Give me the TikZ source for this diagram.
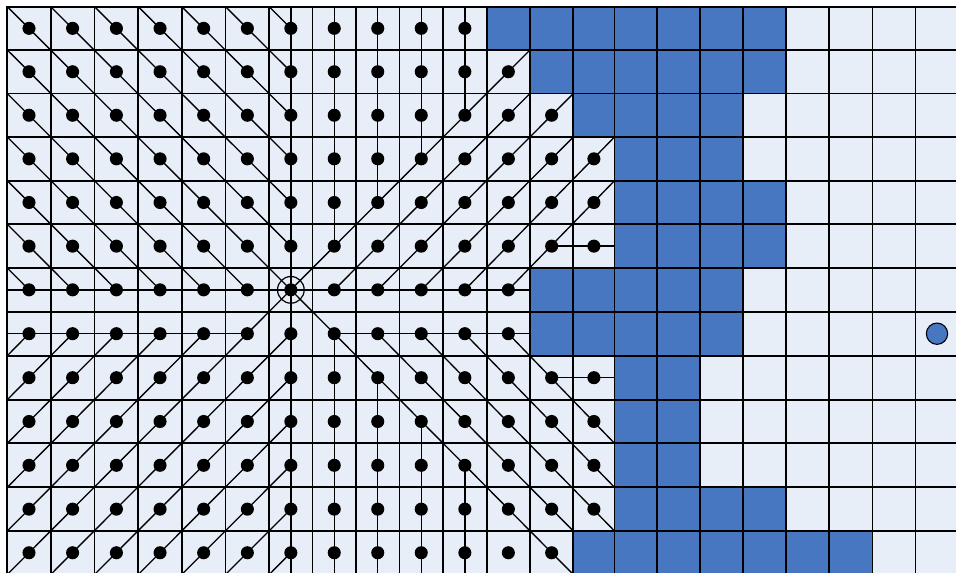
\documentclass[tikz,border=0pt]{standalone}
\definecolor{clight}{RGB}{232,238,248}
\definecolor{cblue}{RGB}{70,119,192}
\begin{document}
\begin{tikzpicture}[x=0.75pt,y=-0.75pt,
  cellbox/.style={draw=black,line width=1.25pt},
  conn/.style={draw=black,line width=1pt},
  dotnode/.style={circle,fill=black,inner sep=0pt,minimum size=9.8pt},
  ringnode/.style={circle,draw=black,line width=0.9pt,inner sep=0pt,minimum size=20pt},
  goalnode/.style={circle,draw=black,fill=cblue,line width=0.8pt,inner sep=0pt,minimum size=16pt}]
\useasboundingbox (0,0) rectangle (956,573);
\fill[white] (0,0) rectangle (956,573);
\clip (0,0) rectangle (956,573);
\def\XS{{7.3,50.7,94.5,138.3,181.8,225.5,269.2,312.5,356,399.5,443,486.7,530,573.3,614.5,657.3,700.3,743.3,786.3,829.3,872.5,915.5,958.5}}
\def\YS{{6.7,50,93.5,137,180.7,224.3,268,311.7,355.7,399.7,443.3,487.3,531,574.5}}
\def\BA{{11,12,13,14,14,14,12,12,14,14,14,14,13}}
\def\BB{{17,17,16,16,17,17,16,16,15,15,15,17,19}}
% corners
\foreach \ri in {0,...,13}{
  \foreach \ci in {0,...,22}{
    \pgfmathsetmacro\xx{\XS[\ci]}
    \pgfmathsetmacro\yy{\YS[\ri]}
    \coordinate (k-\ri-\ci) at (\xx,\yy);
  }
}
% centres
\foreach \ri in {0,...,12}{
  \foreach \ci in {0,...,21}{
    \pgfmathtruncatemacro\rn{\ri+1}
    \pgfmathtruncatemacro\cn{\ci+1}
    \pgfmathsetmacro\xa{\XS[\ci]}
    \pgfmathsetmacro\xb{\XS[\cn]}
    \pgfmathsetmacro\ya{\YS[\ri]}
    \pgfmathsetmacro\yb{\YS[\rn]}
    \pgfmathsetmacro\xm{(\xa+\xb)/2}
    \pgfmathsetmacro\ym{(\ya+\yb)/2}
    \coordinate (p-\ri-\ci) at (\xm,\ym);
  }
}
% edge points
\foreach \ci in {0,...,21}{
  \coordinate (top-\ci) at (p-0-\ci |- k-0-0);
  \coordinate (bot-\ci) at (p-0-\ci |- k-13-0);
}
\foreach \ri in {0,...,12}{
  \coordinate (left-\ri) at (k-0-0 |- p-\ri-0);
}
\coordinate (e6) at (k-0-12 |- p-6-0);
\coordinate (e7) at (k-0-12 |- p-7-0);
\coordinate (e5) at (k-0-14 |- p-5-0);
\coordinate (e8) at (k-0-14 |- p-8-0);
% cells
\foreach \ri in {0,...,12}{
  \foreach \ci in {0,...,21}{
    \pgfmathtruncatemacro\rn{\ri+1}
    \pgfmathtruncatemacro\cn{\ci+1}
    \pgfmathtruncatemacro\ba{\BA[\ri]}
    \pgfmathtruncatemacro\bb{\BB[\ri]}
    \ifnum\ci<\ba \def\fc{clight}\else\ifnum\ci>\bb \def\fc{clight}\else\def\fc{cblue}\fi\fi
    \path[cellbox,fill=\fc] (k-\ri-\ci) rectangle (k-\rn-\cn);
  }
}
% connectors
\draw[conn] (top-6) -- (bot-6);
\draw[conn] (left-6) -- (e6);
\draw[conn] (left-7) -- (p-7-5);
\draw[conn] (p-7-7) -- (e7);
\draw[conn] (p-5-12) -- (e5);
\draw[conn] (p-8-12) -- (e8);
\draw[conn] (p-6-6) -- (k-1-12);
\draw[conn] (p-6-6) -- (k-13-13);
\draw[conn] (k-2-12) -- (p-6-7);
\draw[conn] (k-2-13) -- (p-6-8);
\draw[conn] (k-3-13) -- (p-6-9);
\draw[conn] (k-3-14) -- (p-6-10);
\draw[conn] (k-4-14) -- (p-6-11);
\draw[conn] (p-7-8) -- (k-12-13);
\draw[conn] (p-7-9) -- (k-12-14);
\draw[conn] (p-7-10) -- (k-11-14);
\draw[conn] (p-7-11) -- (k-10-14);
\draw[conn] (p-7-7) -- (bot-7);
\draw[conn] (p-8-8) -- (bot-8);
\draw[conn] (p-9-9) -- (bot-9);
\draw[conn] (p-10-10) -- (bot-10);
\foreach \kk in {0,...,6}{
  \pgfmathtruncatemacro\ee{6-\kk}
  \draw[conn] (k-0-\kk) -- (p-\ee-6);
}
\foreach \ri in {1,...,6}{
  \pgfmathtruncatemacro\ee{6-\ri}
  \draw[conn] (k-\ri-0) -- (p-6-\ee);
}
\foreach \ci in {7,...,10}{
  \pgfmathtruncatemacro\ee{12-\ci}
  \draw[conn] (top-\ci) -- (p-\ee-\ci);
}
\foreach \ri in {7,...,11}{
  \pgfmathtruncatemacro\rn{\ri+1}
  \pgfmathtruncatemacro\ee{\ri-7}
  \draw[conn] (k-\rn-0) -- (p-7-\ee);
}
\foreach \kk in {0,...,6}{
  \pgfmathtruncatemacro\ee{6+\kk}
  \draw[conn] (k-13-\kk) -- (p-\ee-6);
}
% dots
\foreach \ri in {0,...,12}{
  \pgfmathtruncatemacro\ba{\BA[\ri]-1}
  \foreach \ci in {0,...,\ba}{
    \node[dotnode] (d-\ri-\ci) at (p-\ri-\ci) {};
  }
}
\node[ringnode] (src) at (p-6-6) {};
\node[goalnode] (goal) at (p-7-21) {};
\end{tikzpicture}
\end{document}
